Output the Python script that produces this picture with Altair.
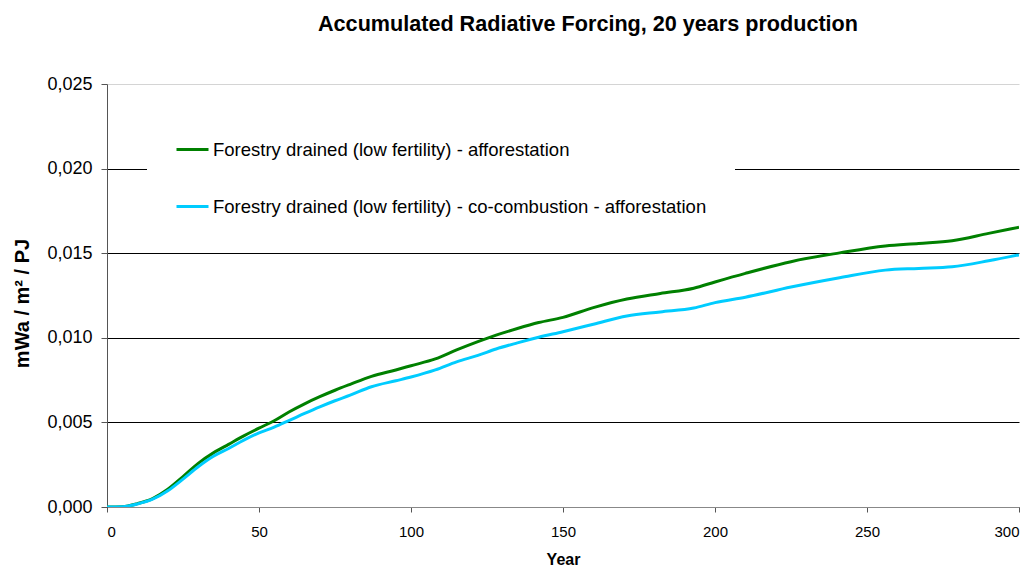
import altair as alt
import pandas as pd

# Accumulated radiative forcing per PJ over 300 years (20 years of production)
years = [0, 5, 10, 15, 20, 25, 30, 35, 40, 45, 50, 55, 60, 65, 70, 75, 80, 87,
         95, 100, 108, 115, 122, 128, 135, 142, 150, 160, 171, 182, 193, 200,
         210, 225, 241, 256, 267, 278, 290, 300]

afforestation = [0.0, 0.00002, 0.0002, 0.0005, 0.00105, 0.0018, 0.00258, 0.0032,
                 0.0037, 0.0042, 0.00466, 0.0051, 0.00563, 0.0061, 0.00652,
                 0.0069, 0.00725, 0.00772, 0.0081, 0.00835, 0.00875, 0.00928,
                 0.00977, 0.01016, 0.01055, 0.0109, 0.01121, 0.01178, 0.01229,
                 0.01262, 0.01293, 0.0133, 0.01381, 0.0145, 0.01502, 0.01543,
                 0.01558, 0.01574, 0.01617, 0.01653]

cocombustion = [0.0, 0.00002, 0.00018, 0.00046, 0.00096, 0.00165, 0.00238,
                0.0030, 0.00346, 0.00395, 0.00438, 0.00472, 0.00512, 0.00553,
                0.00592, 0.00628, 0.00661, 0.00711, 0.00746, 0.00768, 0.0081,
                0.00858, 0.00896, 0.00934, 0.0097, 0.01003, 0.01036, 0.0108,
                0.01129, 0.01153, 0.01176, 0.01208, 0.0124, 0.013, 0.01355,
                0.014, 0.0141, 0.0142, 0.01455, 0.0149]

series_names = [
    "Forestry drained (low fertility) - afforestation",
    "Forestry drained (low fertility) - co-combustion - afforestation",
]
series_colors = ["#008000", "#00CCFF"]

df = pd.concat([
    pd.DataFrame({"Year": years, "RF": afforestation, "Series": series_names[0]}),
    pd.DataFrame({"Year": years, "RF": cocombustion, "Series": series_names[1]}),
])

FONT = "Liberation Sans"

chart = alt.Chart(df).mark_line(strokeWidth=3, clip=True, interpolate="monotone").encode(
    x=alt.X("Year:Q", scale=alt.Scale(domain=[0, 300], nice=False),
            axis=alt.Axis(title="Year", values=[0, 50, 100, 150, 200, 250, 300],
                          grid=False, tickSize=5, labelPadding=12,
                          labelFontSize=15, titleFontSize=16, titleFontWeight="bold",
                          titlePadding=12, domainColor="#888888", tickColor="#555555",
                          labelColor="black", titleColor="black")),
    y=alt.Y("RF:Q", scale=alt.Scale(domain=[0, 0.025], nice=False),
            axis=alt.Axis(title="mWa / m² / PJ",
                          values=[0, 0.005, 0.01, 0.015, 0.02, 0.025],
                          labelExpr="replace(format(datum.value, '.3f'), '.', ',')",
                          grid=True,
                          gridColor={"condition": {"test": "datum.value >= 0.025",
                                                   "value": "#d4d4d4"},
                                     "value": "black"},
                          gridWidth=1, tickSize=6, labelPadding=9,
                          labelFontSize=18, titleFontSize=20, titleFontWeight="bold",
                          titleX=-85, titleY=219, titleAngle=-90,
                          titleBaseline="middle", titleAlign="center",
                          domainColor="#555555", tickColor="#555555",
                          labelColor="black", titleColor="black")),
    color=alt.Color("Series:N",
                    scale=alt.Scale(domain=series_names, range=series_colors),
                    legend=alt.Legend(title=None, orient="none", legendX=40, legendY=20,
                                      fillColor="white", padding=28,
                                      symbolType="stroke", symbolSize=1024,
                                      symbolStrokeWidth=3, labelOffset=3,
                                      rowPadding=30, labelFontSize=18.5,
                                      labelColor="black", labelLimit=800)),
).properties(
    width=912,
    height=423,
    title=alt.TitleParams("Accumulated Radiative Forcing, 20 years production",
                          fontSize=21.6, fontWeight="bold", color="black",
                          anchor="middle", dx=25, offset=22, baseline="alphabetic"),
    autosize=alt.AutoSizeParams(type="none"),
    padding={"left": 107, "top": 84, "right": 15, "bottom": 61},
).configure(
    font=FONT,
).configure_view(
    stroke=None,
)

chart.save("out.html", embed_options={"renderer": "svg", "actions": False})
